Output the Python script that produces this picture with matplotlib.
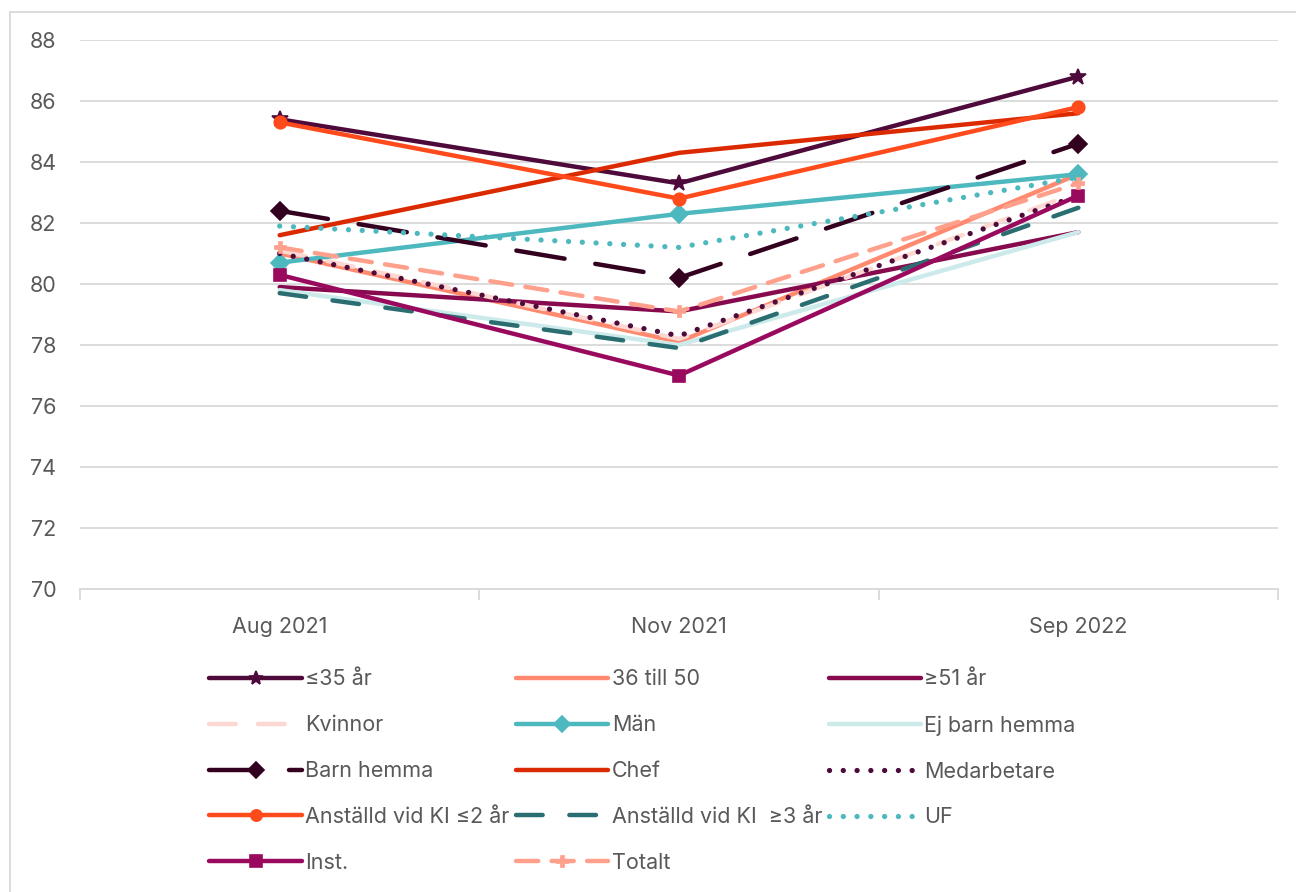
import matplotlib
matplotlib.use("Agg")
import matplotlib.pyplot as plt
from matplotlib.lines import Line2D

plt.rcParams['font.family'] = ['Inter', 'DejaVu Sans']

periods = ["Aug 2021", "Nov 2021", "Sep 2022"]

le35 = [85.4, 83.3, 86.8]
age36_50 = [81.0, 78.1, 83.6]
ge51 = [79.9, 79.1, 81.7]
kvinnor = [81.1, 78.2, 83.0]
man = [80.7, 82.3, 83.6]
ej_barn = [79.8, 78.0, 81.7]
barn = [82.4, 80.2, 84.6]
chef = [81.6, 84.3, 85.6]
medarb = [81.0, 78.3, 82.9]
ki_le2 = [85.3, 82.8, 85.8]
ki_ge3 = [79.7, 77.9, 82.5]
uf = [81.9, 81.2, 83.5]
inst = [80.3, 77.0, 82.9]
totalt = [81.2, 79.1, 83.3]

# (label, values, color, linestyle, marker)
series = [
    ("≤35 år", le35, "#4d0a3a", "-", "*"),
    ("36 till 50", age36_50, "#ff8a70", "-", None),
    ("≥51 år", ge51, "#870a4e", "-", None),
    ("Kvinnor", kvinnor, "#fdd8d2", (0, (6, 5)), None),
    ("Män", man, "#4db8be", "-", "D"),
    ("Ej barn hemma", ej_barn, "#cdeaeb", "-", None),
    ("Barn hemma", barn, "#33001f", (0, (11, 7)), "D"),
    ("Chef", chef, "#dc2a00", "-", None),
    ("Medarbetare", medarb, "#4d0a3a", (0, (0.01, 2.6)), None),
    ("Anställd vid KI ≤2 år", ki_le2, "#ff4a1c", "-", "o"),
    ("Anställd vid KI  ≥3 år", ki_ge3, "#2b6e71", (0, (6, 6)), None),
    ("UF", uf, "#4db8be", (0, (0.01, 2.6)), None),
    ("Inst.", inst, "#990a5e", "-", "s"),
    ("Totalt", totalt, "#ffa08c", (0, (5, 3)), "P"),
]

fig = plt.figure(figsize=(12.96, 8.92), dpi=100)
ax = fig.add_axes([80 / 1296, 1 - 589 / 892, 1198 / 1296, 549 / 892])

x = list(range(len(periods)))
handles = {}
draw_order = [5, 10, 3, 1, 2, 8, 11, 13, 12, 6, 4, 7, 9, 0]
for idx in draw_order:
    label, vals, color, ls, mk = series[idx]
    lw = 3.2
    if isinstance(ls, tuple) and ls[1][0] < 0.1:
        lw = 3.8
    line, = ax.plot(x, vals, color=color, linestyle=ls, linewidth=lw,
                    marker=mk, markersize=9 if mk != "*" else 12,
                    markeredgewidth=1.2 if mk != "P" else 0.5,
                    markerfacecolor=color, markeredgecolor=color,
                    solid_capstyle="round", dash_capstyle="round",
                    label=label, zorder=3 + idx * 0.01)
    handles[idx] = line

ax.set_xlim(-0.5, 2.5)
ax.set_ylim(70, 88)
ax.set_yticks(range(70, 89, 2))
ax.yaxis.grid(True, color="#d9d9d9", linewidth=1.3)
ax.set_axisbelow(True)
for s in ["top", "right", "left"]:
    ax.spines[s].set_visible(False)
ax.spines["bottom"].set_color("#d9d9d9")
ax.spines["bottom"].set_linewidth(1.3)
ax.tick_params(axis="y", length=0, labelsize=15.5, labelcolor="#595959", pad=17)
ax.set_xticks(x)
ax.set_xticklabels(periods)
ax.tick_params(axis="x", length=0, labelsize=15.5, labelcolor="#595959", pad=20)
ax.set_xticks([-0.5, 0.5, 1.5, 2.5], minor=True)
ax.tick_params(axis="x", which="minor", length=8, color="#d9d9d9", width=1.3)

# Legend laid out row-wise in three columns
cols = [[0, 3, 6, 9, 12], [1, 4, 7, 10, 13], [2, 5, 8, 11]]
order = [i for c in cols for i in c]
leg = fig.legend([handles[i] for i in order], [series[i][0] for i in order],
                 ncol=3, loc="upper left", bbox_to_anchor=(190 / 1296, 1 - 650 / 892),
                 frameon=False, fontsize=15.5, handlelength=4.3, handletextpad=0.15,
                 columnspacing=0.3, labelspacing=1.2, labelcolor="#595959",
                 markerscale=0.9)

# Chart frame
fig.add_artist(Line2D([10 / 1296, 10 / 1296], [0, 1 - 12 / 892],
                      transform=fig.transFigure, color="#d9d9d9", linewidth=1.3))
fig.add_artist(Line2D([10 / 1296, 1], [1 - 12 / 892, 1 - 12 / 892],
                      transform=fig.transFigure, color="#d9d9d9", linewidth=1.3))

fig.savefig("out.png", dpi=100)
